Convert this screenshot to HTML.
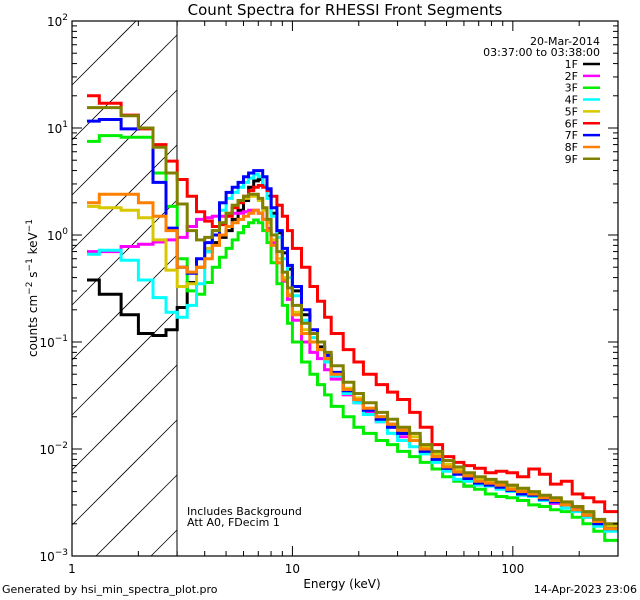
<!DOCTYPE html>
<html><head><meta charset="utf-8"><style>
html,body{margin:0;padding:0;background:#fff;overflow:hidden;width:640px;height:600px;}
svg{display:block;}
svg text{font-family:"DejaVu Sans","Liberation Sans",sans-serif;fill:#000;}
</style></head><body>
<svg id="chart" width="640" height="600" viewBox="0 0 640 600" overflow="hidden" xmlns="http://www.w3.org/2000/svg">
<rect width="640" height="600" fill="#fff"/>
<text x="345" y="15" font-size="15" text-anchor="middle">Count Spectra for RHESSI Front Segments</text>
<defs><clipPath id="plotclip"><rect x="72" y="21" width="546" height="535"/></clipPath></defs>
<g id="hatch" stroke="#000" stroke-width="0.8"></g>
<line x1="177" y1="21" x2="177" y2="556" stroke="#000" stroke-width="1"/>
<g id="series" clip-path="url(#plotclip)"></g>
<rect x="72" y="21" width="546" height="535" fill="none" stroke="#000" stroke-width="1.2"/>
<g id="axes"></g>
<text x="342" y="588" font-size="12" text-anchor="middle">Energy (keV)</text>
<text transform="translate(37,288) rotate(-90)" font-size="12" text-anchor="middle">counts cm<tspan dy="-5" font-size="9">−2</tspan><tspan dy="5"> s</tspan><tspan dy="-5" font-size="9">−1</tspan><tspan dy="5"> keV</tspan><tspan dy="-5" font-size="9">−1</tspan></text>
<text x="600" y="45" font-size="11" text-anchor="end">20-Mar-2014</text>
<text x="600" y="56" font-size="11" text-anchor="end">03:37:00 to 03:38:00</text>
<g id="legend"></g>
<text x="187" y="515" font-size="11">Includes Background</text>
<text x="187" y="526" font-size="11">Att A0, FDecim 1</text>
<text x="2" y="593" font-size="11">Generated by hsi_min_spectra_plot.pro</text>
<text x="637" y="593" font-size="11" text-anchor="end">14-Apr-2023 23:06</text>
</svg>
<script>
const edges=[1.17,1.33,1.67,2,2.33,2.67,3,3.33,3.67,4,4.33,4.67,5,5.33,5.67,6,6.33,6.67,7,7.33,7.67,8,8.5,9,9.5,10,11,12,13,14,15,17,19,21,24,27,30,34,38,43,48,54,60,67,75,84,94,105,118,132,148,166,186,208,233,261,300];
const names=["1F","2F","3F","4F","5F","6F","7F","8F","9F"];
const colors=["#000000","#ff00ff","#00ee00","#00ffff","#d8c800","#ff0000","#0000ff","#ff8000","#808000"];
const s1F=[0.38,0.28,0.18,0.12,0.115,0.13,0.21,0.36,0.5,0.7,0.85,0.95,1.1,1.4,1.7,2.1,2.8,3.2,3.3,2.9,2.3,1.6,1.05,0.68,0.48,0.3,0.18,0.12,0.09,0.07,0.05,0.034,0.028,0.023,0.019,0.017,0.014,0.012,0.01,0.0085,0.0065,0.006,0.0045,0.005,0.0049,0.0045,0.0043,0.0038,0.0037,0.0034,0.0033,0.003,0.0027,0.0025,0.002,0.0018];
const s2F=[0.7,0.7,0.78,0.82,0.86,0.9,0.95,1.2,1.4,1.45,1.5,1.5,1.55,1.6,1.6,1.65,1.7,1.7,1.6,1.4,1.15,0.85,0.55,0.37,0.25,0.16,0.1,0.08,0.07,0.055,0.045,0.032,0.027,0.022,0.018,0.016,0.013,0.012,0.0098,0.0085,0.0068,0.0062,0.0052,0.0051,0.0047,0.0046,0.0041,0.0041,0.0036,0.0036,0.0031,0.0031,0.0027,0.0023,0.0021,0.0018];
const s3F=[7.5,8.5,8.2,8.2,3.8,1.85,0.6,0.3,0.28,0.36,0.5,0.62,0.75,0.9,1.05,1.2,1.3,1.38,1.3,1.1,0.85,0.55,0.35,0.22,0.15,0.1,0.065,0.05,0.04,0.032,0.025,0.02,0.016,0.014,0.012,0.011,0.0095,0.0085,0.0075,0.0065,0.0055,0.005,0.0045,0.0042,0.0038,0.0036,0.0035,0.0033,0.003,0.0029,0.0027,0.0026,0.0023,0.002,0.0017,0.0014];
const s4F=[0.66,0.72,0.58,0.38,0.26,0.19,0.17,0.22,0.35,0.7,1.1,1.7,2.2,2.5,2.8,3.1,3.4,3.7,3.5,2.9,2.2,1.5,0.95,0.6,0.4,0.27,0.16,0.11,0.085,0.065,0.048,0.033,0.027,0.021,0.018,0.014,0.012,0.0105,0.009,0.0075,0.0062,0.0052,0.005,0.0046,0.0045,0.0042,0.004,0.0037,0.0036,0.0033,0.0032,0.0028,0.0026,0.0023,0.0019,0.0017];
const s5F=[1.85,1.8,1.7,1.45,0.9,0.47,0.33,0.35,0.5,0.75,1.0,1.3,1.6,1.9,2.1,2.2,2.3,2.3,2.1,1.7,1.3,0.9,0.6,0.4,0.28,0.19,0.13,0.1,0.085,0.07,0.052,0.037,0.03,0.024,0.02,0.017,0.015,0.013,0.0105,0.009,0.0072,0.0064,0.0057,0.0053,0.005,0.0047,0.0043,0.0041,0.0039,0.0036,0.0034,0.0031,0.0029,0.0025,0.0021,0.0019];
const s6F=[20,17,13.2,9.8,7.0,4.9,3.3,2.3,1.65,1.35,1.2,1.25,1.5,1.8,2.0,2.3,2.6,2.8,2.9,2.8,2.6,2.3,1.9,1.5,1.1,0.75,0.5,0.33,0.24,0.17,0.12,0.085,0.065,0.05,0.04,0.034,0.029,0.022,0.016,0.011,0.0085,0.0075,0.007,0.0066,0.006,0.0062,0.006,0.0055,0.0065,0.0058,0.0047,0.005,0.0038,0.0035,0.0032,0.0026];
const s7F=[11.6,12,9.8,10,3.1,1.16,0.5,0.44,0.6,0.85,1.0,2.0,2.5,2.8,3.1,3.5,3.8,4.0,4.0,3.5,2.7,1.8,1.1,0.75,0.52,0.33,0.2,0.13,0.1,0.075,0.052,0.035,0.029,0.023,0.019,0.016,0.014,0.012,0.0095,0.008,0.0066,0.0058,0.0053,0.0048,0.0046,0.0044,0.0041,0.0038,0.0037,0.0034,0.0032,0.003,0.0027,0.0024,0.002,0.0018];
const s8F=[2.0,2.4,2.4,2.0,1.5,1.1,0.5,0.45,0.5,0.6,0.8,1.0,1.2,1.3,1.4,1.5,1.6,1.7,1.6,1.4,1.1,0.8,0.55,0.38,0.27,0.18,0.12,0.1,0.085,0.07,0.05,0.036,0.029,0.024,0.02,0.017,0.015,0.012,0.01,0.0085,0.0068,0.0061,0.0056,0.005,0.0048,0.0046,0.0042,0.004,0.0038,0.0035,0.0033,0.003,0.0027,0.0024,0.0021,0.0018];
const s9F=[15.5,15.5,13,10,6.6,3.8,1.95,1.1,0.9,0.95,1.1,1.3,1.6,1.9,2.1,2.3,2.4,2.4,2.2,1.8,1.4,1.0,0.7,0.45,0.32,0.22,0.15,0.12,0.1,0.08,0.06,0.042,0.033,0.027,0.022,0.019,0.016,0.014,0.011,0.0095,0.0078,0.0068,0.006,0.0055,0.0052,0.0049,0.0046,0.0043,0.004,0.0037,0.0035,0.0032,0.0029,0.0026,0.0022,0.002];
const seriesData=[s1F,s2F,s3F,s4F,s5F,s6F,s7F,s8F,s9F];
const xTickLabels=["1","10","100"];
const yTickExps=["2","1","0","−1","−2","−3"];

const X0=72,X1=618,Y0=21,Y1=556;
const xLogMin=0,xLogMax=Math.log10(300),yLogMin=-3,yLogMax=2;
function xs(e){return X0+(Math.log10(e)-xLogMin)/(xLogMax-xLogMin)*(X1-X0);}
function ys(v){return Y1-(Math.log10(v)-yLogMin)/(yLogMax-yLogMin)*(Y1-Y0);}
function clampY(y){return Math.max(Y0-3,Math.min(Y1+3,y));}
const NS="http://www.w3.org/2000/svg";
function mk(t,a,p){const e=document.createElementNS(NS,t);for(const k in a)e.setAttribute(k,a[k]);p.appendChild(e);return e;}

// hatch lines (x+y=c), clipped manually to [72,177]x[21,556]
const hatch=document.getElementById('hatch');
const HX0=72,HX1=177;
for(let c=HX0+Y0+64;c<HX1+Y1;c+=55){
  let xa=Math.max(HX0,c-Y1),xb=Math.min(HX1,c-Y0);
  if(xb<=xa)continue;
  const l=mk('line',{x1:xa,y1:c-xa,x2:xb,y2:c-xb},hatch);
  
  
}

const sg=document.getElementById('series');
seriesData.forEach((vals,i)=>{
  let d='';
  vals.forEach((v,j)=>{
    const xa=xs(edges[j]),xb=Math.min(X1,xs(edges[j+1])),y=clampY(ys(v));
    d+=(j===0?'M':'L')+xa.toFixed(1)+','+y.toFixed(1)+'L'+xb.toFixed(1)+','+y.toFixed(1);
  });
  const p=mk('path',{d:d,fill:'none',stroke:colors[i],'stroke-width':3,'stroke-linejoin':'miter'},sg);
  
  
});

const ag=document.getElementById('axes');
for(let dec=0;dec<3;dec++){
  for(let m=1;m<10;m++){
    const e=m*Math.pow(10,dec);
    if(e>300)break;
    const x=xs(e),len=m===1?10:5;
    mk('line',{x1:x,y1:Y1,x2:x,y2:Y1-len,stroke:'#000'},ag);
    mk('line',{x1:x,y1:Y0,x2:x,y2:Y0+len,stroke:'#000'},ag);
  }
}
xTickLabels.forEach((t,i)=>{
  const tx=mk('text',{x:xs(Math.pow(10,i)),y:Y1+17,'font-size':12,'text-anchor':'middle'},ag);
  tx.textContent=t;
  
  
});
for(let dec=-3;dec<2;dec++){
  for(let m=1;m<10;m++){
    const v=m*Math.pow(10,dec),y=ys(v),len=m===1?10:5;
    mk('line',{x1:X0,y1:y,x2:X0+len,y2:y,stroke:'#000'},ag);
    mk('line',{x1:X1,y1:y,x2:X1-len,y2:y,stroke:'#000'},ag);
  }
}
yTickExps.forEach((t,i)=>{
  const y=ys(Math.pow(10,2-i));
  const tx=mk('text',{x:X0-4,y:y+5,'font-size':12,'text-anchor':'end'},ag);
  tx.innerHTML='10<tspan dy="-6" font-size="9">'+t+'</tspan>';
  
  
});

const lg=document.getElementById('legend');
names.forEach((n,i)=>{
  const y=64+i*11.85;
  const g=mk('g',{},lg);
  
  
  const t=mk('text',{x:578,y:y+4,'font-size':11,'text-anchor':'end'},g);
  t.textContent=n;
  mk('line',{x1:583,y1:y,x2:600,y2:y,stroke:colors[i],'stroke-width':2.5},g);
});
</script>
</body></html>
